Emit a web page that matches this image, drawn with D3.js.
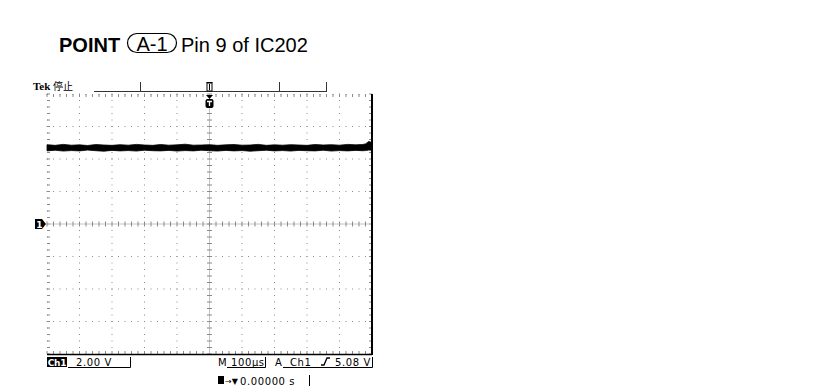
<!DOCTYPE html>
<html><head><meta charset="utf-8">
<script src="https://cdn.jsdelivr.net/npm/d3@7"></script>
<style>body{margin:0;background:#fff}svg{display:block}</style>
</head><body>
<svg id="c" width="829" height="390"></svg>
<script>
// ---- data ----
const timeDomain = [-500, 500];          // µs, 100 µs/div, 10 divs
const voltDomain = [-8, 8];              // V, 2.00 V/div, 8 divs
const traceTime  = [-500,-475,-450,-425,-400,-375,-350,-325,-300,-275,-250,-225,-200,-175,-150,-125,-100,-75,-50,-25,0,25,50,75,100,125,150,175,200,225,250,275,300,325,350,375,400,425,450,470,480,490,500];
const traceHigh  = [4.88,4.84,4.90,4.85,4.87,4.83,4.89,4.86,4.84,4.88,4.85,4.90,4.86,4.84,4.89,4.85,4.87,4.91,4.85,4.86,4.88,4.84,4.87,4.89,4.85,4.86,4.90,4.84,4.87,4.85,4.88,4.86,4.84,4.89,4.86,4.88,4.85,4.90,4.87,4.89,4.93,5.08,5.02];
const traceLow   = [4.50,4.54,4.49,4.52,4.50,4.55,4.51,4.48,4.53,4.50,4.52,4.49,4.54,4.51,4.50,4.53,4.49,4.52,4.50,4.54,4.51,4.49,4.53,4.50,4.52,4.48,4.51,4.54,4.50,4.52,4.49,4.53,4.51,4.50,4.54,4.49,4.52,4.50,4.53,4.51,4.52,4.55,4.54];
const titleBold = "POINT", titleBadge = "A-1", titleRest = "Pin 9 of IC202";
const ch1Scale = "2.00 V", timeScale = "M 100µs", trigPos = "0.00000 s";

const svg = d3.select("#c");
const L=47,R=372,T=94,B=354;
const x = d3.scaleLinear().domain(timeDomain).range([L,R]);
const y = d3.scaleLinear().domain(voltDomain).range([B,T]);
const divX = d3.range(-500,501,100), divY = d3.range(-8,9,2);
const minX = d3.range(-500,501,20), minY = d3.range(-8,8.01,0.4);
const gcol = "#8a8a8a";

// title
const tg = svg.append("g").attr("font-family","Liberation Sans, Arial, sans-serif").attr("font-size",20);
tg.append("text").attr("x",59).attr("y",52).attr("font-weight","bold").text(titleBold);
tg.append("rect").attr("x",127.5).attr("y",33.5).attr("width",49).attr("height",19).attr("rx",9.5).attr("fill","none").attr("stroke","#000").attr("stroke-width",1.2);
tg.append("text").attr("x",152).attr("y",50.5).attr("text-anchor","middle").text(titleBadge);
tg.append("text").attr("x",181).attr("y",52).text(titleRest);

// grid dots
const g = svg.append("g");
divX.slice(1,-1).forEach(t=>{ if(t===0) return;
  minY.forEach(v=> g.append("rect").attr("x",x(t)-0.5).attr("y",y(v)-0.5).attr("width",1).attr("height",1).attr("fill",gcol)); });
divY.slice(1,-1).forEach(v=>{ if(v===0) return;
  minX.forEach(t=> g.append("rect").attr("x",x(t)-0.5).attr("y",y(v)-0.5).attr("width",1).attr("height",1).attr("fill",gcol)); });
// top/left dotted borders
minX.forEach(t=> g.append("rect").attr("x",x(t)-0.5).attr("y",T).attr("width",1).attr("height",1).attr("fill",gcol));
minY.forEach(v=> g.append("rect").attr("x",L).attr("y",y(v)-0.5).attr("width",1).attr("height",1).attr("fill",gcol));
// border ticks
minX.forEach(t=>{ g.append("line").attr("x1",x(t)).attr("x2",x(t)).attr("y1",T).attr("y2",T+3).attr("stroke",gcol);
  g.append("line").attr("x1",x(t)).attr("x2",x(t)).attr("y1",B).attr("y2",B-3).attr("stroke",gcol); });
minY.forEach(v=>{ g.append("line").attr("x1",L).attr("x2",L+3).attr("y1",y(v)).attr("y2",y(v)).attr("stroke",gcol);
  g.append("line").attr("x1",R).attr("x2",R-3).attr("y1",y(v)).attr("y2",y(v)).attr("stroke",gcol); });
// center cross
g.append("line").attr("x1",L).attr("x2",R).attr("y1",y(0)).attr("y2",y(0)).attr("stroke","#c4c4c4");
g.append("line").attr("x1",x(0)).attr("x2",x(0)).attr("y1",T).attr("y2",B).attr("stroke","#c4c4c4");
minX.forEach(t=> g.append("line").attr("x1",x(t)).attr("x2",x(t)).attr("y1",y(0)-2.5).attr("y2",y(0)+2.5).attr("stroke",gcol));
minY.forEach(v=> g.append("line").attr("x1",x(0)-2.5).attr("x2",x(0)+2.5).attr("y1",y(v)).attr("y2",y(v)).attr("stroke",gcol));
// solid right/bottom borders
g.append("line").attr("x1",R).attr("x2",R).attr("y1",T).attr("y2",B+1).attr("stroke","#000").attr("stroke-width",2);
g.append("line").attr("x1",L).attr("x2",R).attr("y1",B+0.5).attr("y2",B+0.5).attr("stroke","#000").attr("stroke-width",1.5);

// trace
const area = d3.area().x((d,i)=>x(traceTime[i])).y0((d,i)=>y(traceLow[i])).y1((d,i)=>y(traceHigh[i]));
svg.append("path").datum(traceTime).attr("d",area).attr("fill","#000").attr("stroke","#000").attr("stroke-width",0.8);

// top status bar
const mono = "DejaVu Sans, Verdana, sans-serif";
svg.append("text").attr("x",33).attr("y",90).attr("font-family","Liberation Serif, serif").attr("font-weight","bold").attr("font-size",11).text("Tek");
svg.append("text").attr("x",53).attr("y",90).attr("font-family","Noto Sans CJK JP").attr("font-size",10).text("停止");
const topBar = svg.append("g").attr("stroke","#333").attr("fill","none");
topBar.append("line").attr("x1",94).attr("x2",326).attr("y1",91.5).attr("y2",91.5);
[140,279,326].forEach(px=> topBar.append("line").attr("x1",px+0.5).attr("x2",px+0.5).attr("y1",82).attr("y2",92));
// trigger position marker on top bar
svg.append("rect").attr("x",x(0)-2.5).attr("y",83).attr("width",5).attr("height",8).attr("fill","#fff").attr("stroke","#000").attr("stroke-width",1);
svg.append("line").attr("x1",x(0)-3).attr("x2",x(0)+3).attr("y1",82.5).attr("y2",82.5).attr("stroke","#000");
svg.append("line").attr("x1",x(0)).attr("x2",x(0)).attr("y1",84).attr("y2",90).attr("stroke","#000");
// trigger marker below
svg.append("path").attr("d",`M${x(0)-3.5},95 L${x(0)+3.5},95 L${x(0)},99 Z`).attr("fill","#000");
svg.append("rect").attr("x",x(0)-4).attr("y",99).attr("width",8).attr("height",9).attr("rx",2).attr("fill","#000");
svg.append("path").attr("d",`M${x(0)-2.5},101.5 H${x(0)+2.5} M${x(0)},101.5 V106`).attr("stroke","#fff").attr("stroke-width",1.3);

// ch1 ground marker
svg.append("path").attr("d",`M35,${y(0)-5} H42 L46,${y(0)} L42,${y(0)+5} H35 Z`).attr("fill","#000");
svg.append("text").attr("x",39.5).attr("y",y(0)+3.5).attr("text-anchor","middle").attr("fill","#fff").attr("font-family",mono).attr("font-weight","bold").attr("font-size",9).text("1");

// bottom readouts
const bt = svg.append("g").attr("font-family",mono).attr("font-size",10).attr("letter-spacing",0.6);
bt.append("rect").attr("x",47).attr("y",357).attr("width",20).attr("height",10).attr("fill","#000");
bt.append("text").attr("x",57).attr("y",365.5).attr("text-anchor","middle").attr("fill","#fff").attr("font-weight","bold").attr("font-size",9).attr("letter-spacing",-0.3).text("Ch1");
bt.append("text").attr("x",76).attr("y",365.5).text(ch1Scale);
bt.append("path").attr("d","M68,367.5 H130.5 V357").attr("fill","none").attr("stroke","#000");
bt.append("text").attr("x",218).attr("y",365.5).text(timeScale);
bt.append("path").attr("d","M227,367.5 H265.5 V357").attr("fill","none").attr("stroke","#000");
bt.append("text").attr("x",275).attr("y",365.5).text("A");
bt.append("text").attr("x",290).attr("y",365.5).text("Ch1");
bt.append("path").attr("d","M321,365 H324 L327,358 H330").attr("fill","none").attr("stroke","#000").attr("stroke-width",1.3);
bt.append("text").attr("x",371).attr("y",365.5).attr("text-anchor","end").text("5.08 V");
bt.append("path").attr("d","M283,367.5 H372.5 V357").attr("fill","none").attr("stroke","#000");
// trigger position readout
bt.append("rect").attr("x",218).attr("y",376).attr("width",6).attr("height",8).attr("fill","#000");
bt.append("text").attr("x",225).attr("y",384).attr("font-size",8).attr("letter-spacing",0).text("→▼");
bt.append("text").attr("x",240).attr("y",384.5).text(trigPos);
bt.append("line").attr("x1",309.5).attr("x2",309.5).attr("y1",375).attr("y2",386).attr("stroke","#000");
</script>
</body></html>
